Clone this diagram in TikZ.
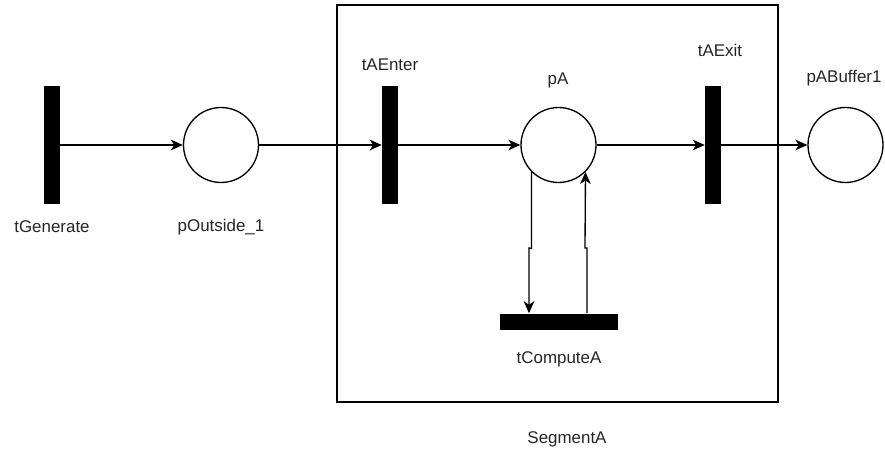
\documentclass[tikz,border=0pt]{standalone}
\usepackage{fontspec}
\setmainfont{Liberation Sans}
\usetikzlibrary{arrows.meta}
\begin{document}
\begin{tikzpicture}[x=0.75pt,y=-0.75pt,
  every node/.style={font=\fontsize{12.7}{15}\selectfont, text=black!85},
  vtrans/.style={rectangle, fill=black, inner sep=0pt, minimum width=12pt, minimum height=88.5pt},
  htrans/.style={rectangle, fill=black, inner sep=0pt, minimum width=88.5pt, minimum height=12pt},
  place/.style={circle, draw=black, line width=1pt, fill=white, inner sep=0pt, minimum size=56.25pt},
  segbox/.style={rectangle, draw=black, line width=1pt, inner sep=0pt, minimum width=330.75pt, minimum height=297.75pt},
  lbl/.style={inner sep=0pt, anchor=center},
  arr/.style={draw=black, line width=1pt, -{Stealth[length=9pt,width=8pt,inset=2.6pt]}}
]
\useasboundingbox (0,0) rectangle (885,452);
\fill[white] (0,0) rectangle (885,452);

\node[segbox] (seg) at (557.5,203.5) {};

\node[vtrans] (tGen) at (51.5,145) {};
\node[place] (pOut) at (221,145) {};
\node[vtrans] (tAEnter) at (390,145) {};
\node[place] (pA) at (558.5,145) {};
\node[vtrans] (tAExit) at (713,145) {};
\node[place] (pAB) at (845.5,145) {};
\node[htrans] (tComp) at (558.5,321.5) {};

\node[lbl] (ltGen) at (52,227) {tGenerate};
\node[lbl] (lpOut) at (221,227) {pOutside\_1};
\node[lbl] (ltAEnter) at (390,65) {tAEnter};
\node[lbl] (lpA) at (558,80) {pA};
\node[lbl] (ltAExit) at (720,50) {tAExit};
\node[lbl] (lpAB) at (844,78) {pABuffer1};
\node[lbl] (ltComp) at (559,359) {tComputeA};
\node[lbl] (lseg) at (567,439) {SegmentA};

\draw[arr] (tGen.east) -- (pOut.west);
\draw[arr] (pOut.east) -- (tAEnter.west);
\draw[arr] (tAEnter.east) -- (pA.west);
\draw[arr] (pA.east) -- (tAExit.west);
\draw[arr] (tAExit.east) -- (pAB.west);

\coordinate (j1) at (529,248);
\coordinate (j2) at (587,248);
\draw[arr] (pA.-135) -- ++(0,76.5) -- (j1) -- (j1 |- tComp.north);
\draw[arr] (j2 |- tComp.north) -- (j2) -- ++(-2,0) -- (pA.-45);
\end{tikzpicture}
\end{document}
